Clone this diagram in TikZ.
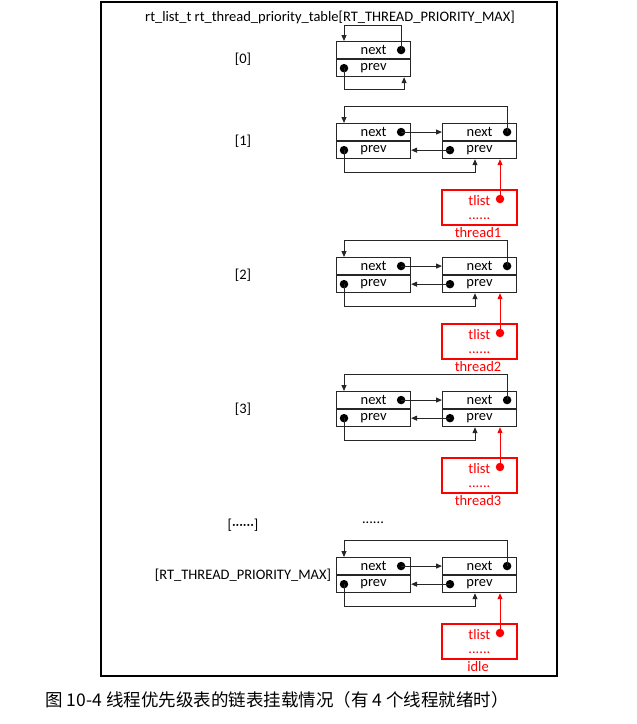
\documentclass[tikz,border=0pt]{standalone}
\usepackage{fontspec}
\setmainfont{Carlito}
\newfontfamily\cjk{Noto Sans CJK SC}
\usetikzlibrary{positioning}
\usetikzlibrary{arrows.meta}

\begin{document}
\begin{tikzpicture}[x=1pt,y=-1pt,
  every node/.style={font=\fontsize{14.5}{14.5}\selectfont},
  cell/.style={draw=black!85, line width=1.1pt, rectangle, minimum width=74pt, minimum height=17pt, inner sep=0pt},
  dot/.style={circle, fill, inner sep=0pt, minimum size=8.5pt},
  lnk/.style={draw=black!85, line width=1pt, -{Triangle[length=6pt,width=5pt]}},
  tcbox/.style={draw=red, line width=1.8pt, rectangle, minimum width=75pt, minimum height=35pt, inner sep=0pt, align=center, text=red}]
\useasboundingbox (0,0) rectangle (637,724);
\draw[line width=1.6pt] (101,2) rectangle (557,676);
\node (title) at (330,17) {rt\_list\_t rt\_thread\_priority\_table[RT\_THREAD\_PRIORITY\_MAX]};
% [0]: empty list, points to itself
\node (l0) at (243,59) {[0]};
\node (h0n) [cell, anchor=north west] at (336,41) {next};
\node (h0p) [cell, below=0pt of h0n] {prev};
\node (h0nd) [dot] at ([xshift=-10pt]h0n.east) {};
\node (h0pd) [dot] at ([xshift=8pt]h0p.west) {};
\coordinate (up0) at (0,25);
\coordinate (dn0) at (0,89);
\draw[lnk] (h0nd.center) -- (h0nd.center |- up0) -| ([xshift=8pt]h0n.north west);
\draw[lnk] (h0pd.center) -- (h0pd.center |- dn0) -| ([xshift=-7pt]h0p.south east);
% rows with one thread
\foreach \i/\y/\lab/\thr in {1/123/{[1]}/thread1, 2/257/{[2]}/thread2, 3/391/{[3]}/thread3, m/557/{[RT\_THREAD\_PRIORITY\_MAX]}/idle}
{
  \node (l\i) at (243,\y+18) {\lab};
  \node (h\i n) [cell, anchor=north west] at (336,\y) {next};
  \node (h\i p) [cell, below=0pt of h\i n] {prev};
  \node (t\i n) [cell, anchor=north west] at (442,\y) {next};
  \node (t\i p) [cell, below=0pt of t\i n] {prev};
  \node (h\i nd) [dot] at ([xshift=-10pt]h\i n.east) {};
  \node (h\i pd) [dot] at ([xshift=8pt]h\i p.west) {};
  \node (t\i nd) [dot] at ([xshift=-10pt]t\i n.east) {};
  \node (t\i pd) [dot] at ([xshift=8pt]t\i p.west) {};
  \coordinate (up\i) at (0,\y-17);
  \coordinate (dn\i) at (0,\y+49);
  \draw[lnk] (h\i nd.center) -- (t\i n.west |- h\i nd);
  \draw[lnk] (t\i pd.center) -- (h\i p.east |- t\i pd);
  \draw[lnk] (t\i nd.center) -- (t\i nd.center |- up\i) -| ([xshift=8pt]h\i n.north west);
  \draw[lnk] (h\i pd.center) -- (h\i pd.center |- dn\i) -| ([xshift=33pt]t\i p.south west);
  \node (tcb\i) [tcbox, anchor=north west] at (441,\y+66) {tlist\\[-1pt]......};
  \node (r\i d) [dot, fill=red] at (500,\y+76) {};
  \draw[lnk, draw=red] (r\i d.center) -- (t\i p.south -| r\i d);
  \node (thr\i) [text=red] at (478,\y+110) {\thr};
}
\node (lx) at (243,525) {[······]};
\node (mx) at (373,523) {......};
\node (cap) [anchor=west, font=\cjk\fontsize{17.5}{17.5}\selectfont] at (42,700) {图 10-4 线程优先级表的链表挂载情况（有 4 个线程就绪时）};
\end{tikzpicture}
\end{document}
